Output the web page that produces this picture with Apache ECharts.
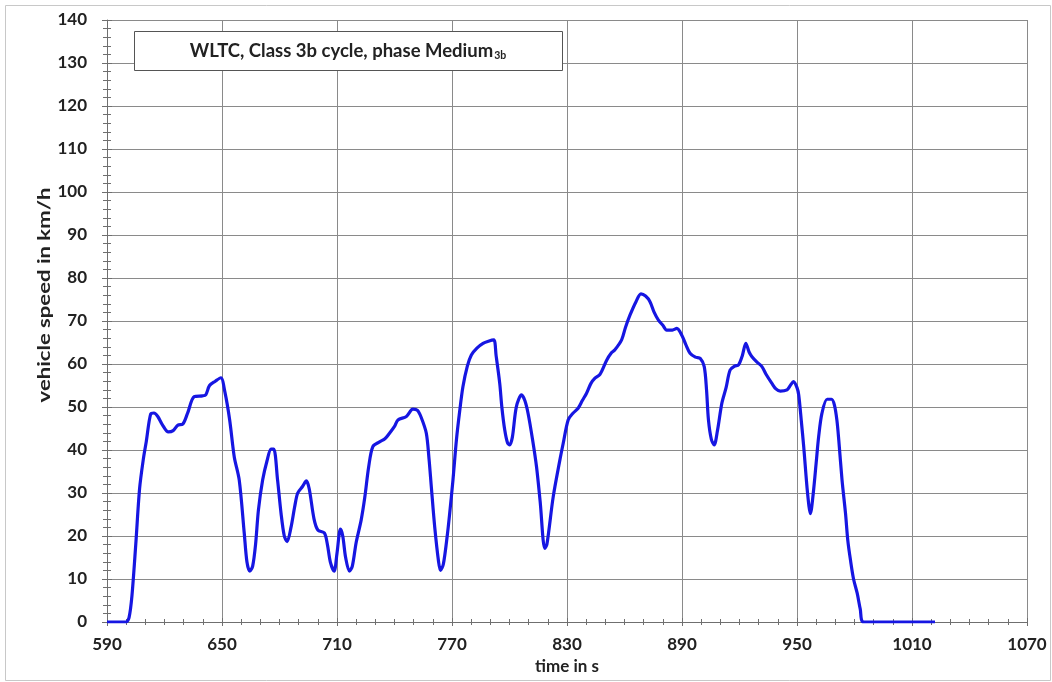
<!DOCTYPE html>
<html><head><meta charset="utf-8">
<script src="https://cdn.jsdelivr.net/npm/echarts@6/dist/echarts.min.js"></script>
<style>html,body{margin:0;padding:0;background:#fff}#c{width:1052px;height:682px}</style>
</head><body><div id="c"></div>
<script>
const titleText = 'WLTC, Class 3b cycle, phase Medium';
const titleSub = '3b';
const xAxisName = 'time in s';
const yAxisName = 'vehicle speed in km/h';
const xTicks = [590, 650, 710, 770, 830, 890, 950, 1010, 1070];
const yTicks = [0, 10, 20, 30, 40, 50, 60, 70, 80, 90, 100, 110, 120, 130, 140];
const times = [590,598,600,601.5,603,605,607,609,610.5,612.8,614.5,616.5,619,622,624.5,627,629.5,632,635.5,639.8,641.5,643.5,646.5,649.4,651.5,654,656.4,659,661.6,663,664.5,666,667.5,669,671.2,673.5,675.6,677,679,680.8,682.5,684,686,688,689.5,692,694,695.5,698,700,703.4,705,706.5,708.5,710,711.8,713,714.5,716.5,718,720,722.6,724.5,726.5,728.7,732.2,735,737.4,740,741.8,746.2,749.6,752,754,756.6,758,759.2,761,763,764,765.5,767.5,768.8,770.5,772.3,774,775.7,778,780.1,783,786.2,789,791.8,793,794.9,796,797.5,799,800.1,801.5,803.6,806.3,808,809.7,812,814.1,816,818.4,819.5,822.8,826.3,828,830.6,833,835.8,838,840.2,842.5,844.6,847.2,850.7,853,855,858.5,860.5,862.9,866,868.6,871,873.3,875.5,877.7,880,882,885,887.3,889.9,892,894.2,897,899.5,901.6,902.8,903.8,905.3,906.8,908.5,910.8,913,915.1,917.5,919.5,921.5,923.3,925,926.5,929,931.7,934,936.9,939,941.3,944.8,946.5,948.2,950,950.9,952.2,953.5,955.5,957,958.5,960,961.3,963,965.7,968,969.5,970.8,971.8,973.5,975.3,976.5,977.9,979.5,981.4,983,984.8,1022];
const speeds = [0,0,0,1,6,18,31,38,42,48.4,48.6,47.8,45.8,44.2,44.5,45.8,46,48.5,52.4,52.6,52.8,55,56,56.8,53.5,47,38.4,33,20.7,14,11.8,13,18,26,33,37.5,40.2,40.2,33,25.3,20,18.7,22,27,30,31.5,32.8,31,24,21.4,20.7,18,14,11.8,16,21.6,20,15,11.8,13,18.5,23.7,29,36,40.8,41.9,42.6,43.9,45.5,47,47.8,49.5,49.2,47.5,43.9,38,31.5,22,14,12,13.5,20,25.3,33,42.3,49,54.7,59.5,62.1,63.7,64.8,65.3,65.6,62,55.5,50,44.7,41.6,41.2,43,50.1,52.8,51.5,48.5,42.5,36.1,28,17.1,18,29.1,37.7,41.5,47,48.5,49.7,51.5,53.2,55.5,56.7,57.6,60.9,62.5,63.3,65.6,68.5,71.4,74.5,76.3,75.8,74.5,72,70.2,69,67.9,67.9,68.3,66.7,64.5,62.5,61.6,61.3,59.4,54,47,42.5,41.2,44.5,50.9,54.5,58.6,59.5,59.8,62,64.8,62.8,61.7,60.5,59.4,57.5,55.5,54.2,53.7,54,55,55.9,54.5,52.8,47,40.8,30,25.2,30,37,43.1,48.5,51.8,51.8,50.5,47,42.3,33,25.3,19,14.4,10,6.7,3,0,0];

const chart = echarts.init(document.getElementById('c'));
const FONT = 'Lato';
const TXT = '#222';
const TICK = '#6f6f6f';
const data = times.map((t, i) => [t, speeds[i]]);
const xBase = {type: 'value', min: xTicks[0], max: xTicks[xTicks.length - 1], interval: 60};
const yBase = {type: 'value', min: yTicks[0], max: yTicks[yTicks.length - 1], interval: 10};
chart.setOption({
  animation: false,
  backgroundColor: '#fff',
  grid: {left: 107, right: 25, top: 20, bottom: 60},
  xAxis: [
    Object.assign({}, xBase, {
      name: xAxisName, nameLocation: 'middle', nameGap: 35,
      nameTextStyle: {fontFamily: FONT, fontWeight: 'bold', fontSize: 17, color: TXT},
      axisLine: {show: true, lineStyle: {color: TICK, width: 1}},
      axisTick: {show: true, length: 4, lineStyle: {color: TICK}},
      minorTick: {show: true, splitNumber: 6, length: 3, lineStyle: {color: TICK}},
      axisLabel: {fontFamily: FONT, fontWeight: 'bold', fontSize: 17, color: TXT, margin: 14, formatter: v => String(v)},
      splitLine: {show: true, lineStyle: {color: '#8a8a8a', width: 1}}
    }),
    Object.assign({}, xBase, {
      position: 'bottom',
      axisLine: {show: false},
      axisTick: {show: true, inside: true, length: 4, lineStyle: {color: TICK}},
      minorTick: {show: true, splitNumber: 6, length: 3, lineStyle: {color: TICK}},
      axisLabel: {show: false}, splitLine: {show: false}
    })
  ],
  yAxis: [
    Object.assign({}, yBase, {
      axisLine: {show: true, lineStyle: {color: TICK, width: 1}},
      axisTick: {show: true, length: 5, lineStyle: {color: TICK}},
      minorTick: {show: true, splitNumber: 5, length: 4, lineStyle: {color: TICK}},
      axisLabel: {fontFamily: FONT, fontWeight: 'bold', fontSize: 17, color: TXT, margin: 20},
      splitLine: {show: true, lineStyle: {color: '#8a8a8a', width: 1}}
    }),
    Object.assign({}, yBase, {
      position: 'left',
      axisLine: {show: false},
      axisTick: {show: true, inside: true, length: 5, lineStyle: {color: TICK}},
      minorTick: {show: true, splitNumber: 5, length: 4, lineStyle: {color: TICK}},
      axisLabel: {show: false}, splitLine: {show: false}
    })
  ],
  series: [{
    type: 'line', data: data, showSymbol: false, smooth: 0.3,
    xAxisIndex: 0, yAxisIndex: 0,
    lineStyle: {color: '#1616e2', width: 3.2}
  }],
  graphic: [
    {type: 'rect', left: 3, top: 3, shape: {width: 1045, height: 675}, style: {fill: 'none', stroke: '#c8c8c8', lineWidth: 1}, silent: true},
    {type: 'rect', left: 134, top: 31, shape: {width: 428, height: 39}, style: {fill: '#fff', stroke: '#555', lineWidth: 1}, z: 10},
    {type: 'text', x: 348, y: 51, z: 11, style: {
      text: '{m|' + titleText + '}{s|' + titleSub + '}',
      align: 'center', verticalAlign: 'middle',
      rich: {
        m: {fontFamily: FONT, fontWeight: 'bold', fontSize: 18.5, fill: TXT},
        s: {fontFamily: FONT, fontWeight: 'bold', fontSize: 10.5, fill: TXT, verticalAlign: 'bottom', padding: [9, 0, 0, 1]}
      }
    }},
    {type: 'text', x: 45, y: 295, rotation: Math.PI / 2, scaleX: 1.3, z: 11, style: {
      text: yAxisName, fontFamily: FONT, fontWeight: 'bold', fontSize: 17, fill: TXT,
      align: 'center', verticalAlign: 'middle'
    }}
  ]
});
</script></body></html>
